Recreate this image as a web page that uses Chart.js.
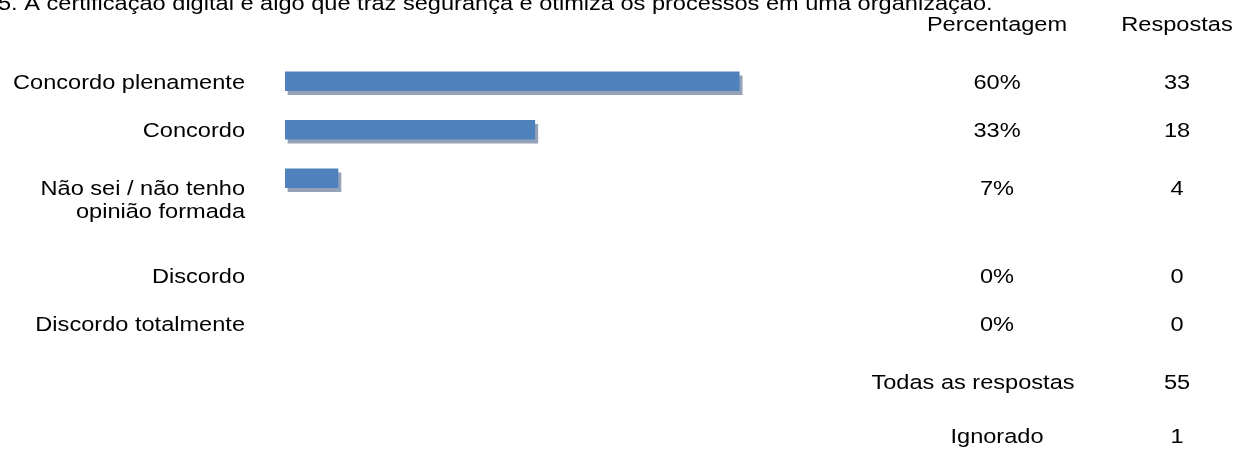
<!DOCTYPE html>
<html>
<head>
<meta charset="utf-8">
<script src="https://cdn.jsdelivr.net/npm/chart.js@4/dist/chart.umd.min.js"></script>
<style>
  body { margin: 0; background: #fff; }
  #survey-chart { display: block; }
</style>
</head>
<body>
<canvas id="survey-chart" width="1238" height="450"></canvas>
<script>
// Question and answer data
const questionTitle = '5. A certificação digital é algo que traz segurança e otimiza os processos em uma organização.';
const columnHeaders = ['Percentagem', 'Respostas'];
const categories = [
  'Concordo plenamente',
  'Concordo',
  ['Não sei / não tenho', 'opinião formada'],
  'Discordo',
  'Discordo totalmente'
];
const percentages = [60, 33, 7, 0, 0];
const responses = [33, 18, 4, 0, 0];
const summaryLabels = ['Todas as respostas', 'Ignorado'];
const summaryValues = [55, 1];

// Text style (the answer sheet font is a bit wide, so text is stretched horizontally)
const FONT = '20.5px "Liberation Sans", Arial, sans-serif';
const STRETCH = 1.15;
const CAP = 0.358 * 20.5;

// Multi-line answers take an extra (empty) slot on the category axis
const slotLabels = [];
const slotValues = [];
const slotAnswer = [];
categories.forEach((cat, i) => {
  const lines = Array.isArray(cat) ? cat : [cat];
  slotLabels.push(lines.join(' '));
  slotValues.push(percentages[i]);
  slotAnswer.push(i);
  for (let k = 1; k < lines.length; k++) {
    slotLabels.push('');
    slotValues.push(null);
    slotAnswer.push(-1);
  }
});

function drawText(ctx, text, x, yCenter, align) {
  ctx.save();
  ctx.translate(x, yCenter + CAP);
  ctx.scale(STRETCH, 1);
  ctx.font = FONT;
  ctx.fillStyle = '#000';
  ctx.textAlign = align;
  ctx.textBaseline = 'alphabetic';
  ctx.fillText(text, 0, 0);
  ctx.restore();
}

// Hard drop shadow under the bars
const barShadow = {
  id: 'barShadow',
  beforeDatasetsDraw(chart) {
    const ctx = chart.ctx;
    ctx.save();
    ctx.shadowColor = '#95a3b8';
    ctx.shadowBlur = 0;
    ctx.shadowOffsetX = 3;
    ctx.shadowOffsetY = 4;
  },
  afterDatasetsDraw(chart) {
    chart.ctx.restore();
  }
};

// Answer labels, the percentage / response columns and the totals
const surveyTable = {
  id: 'surveyTable',
  afterDraw(chart) {
    const ctx = chart.ctx;
    const yScale = chart.scales.y;

    drawText(ctx, questionTitle, -2, 10 - CAP, 'left');
    drawText(ctx, columnHeaders[0], 997, 23.5, 'center');
    drawText(ctx, columnHeaders[1], 1177, 23.5, 'center');

    let lastY = 0;
    slotAnswer.forEach((idx, slot) => {
      if (idx < 0) return;
      const cat = categories[idx];
      const lines = Array.isArray(cat) ? cat : [cat];
      const y = yScale.getPixelForValue(slot) + (lines.length > 1 ? 9 : 0);
      lines.forEach((line, k) => drawText(ctx, line, 245, y + k * 23.5, 'right'));
      drawText(ctx, percentages[idx] + '%', 997, y, 'center');
      drawText(ctx, String(responses[idx]), 1177, y, 'center');
      lastY = y;
    });

    drawText(ctx, summaryLabels[0], 973, lastY + 58, 'center');
    drawText(ctx, String(summaryValues[0]), 1177, lastY + 58, 'center');
    drawText(ctx, summaryLabels[1], 997, lastY + 112, 'center');
    drawText(ctx, String(summaryValues[1]), 1177, lastY + 112, 'center');
  }
};

new Chart(document.getElementById('survey-chart'), {
  type: 'bar',
  data: {
    labels: slotLabels,
    datasets: [{
      data: slotValues,
      // empty answers get no visible bar (and so no shadow)
      backgroundColor: (c) => (c.raw ? '#4f81bd' : 'rgba(0,0,0,0)'),
      borderWidth: 0,
      barThickness: 19
    }]
  },
  options: {
    indexAxis: 'y',
    responsive: false,
    animation: false,
    layout: {
      padding: { left: 285, right: 196, top: 57, bottom: 102 }
    },
    scales: {
      x: { type: 'linear', min: 0, max: 100, display: false },
      y: { type: 'category', offset: true, display: false }
    },
    plugins: {
      legend: { display: false },
      tooltip: { enabled: false },
      title: { display: false }
    }
  },
  plugins: [barShadow, surveyTable]
});
</script>
</body>
</html>
